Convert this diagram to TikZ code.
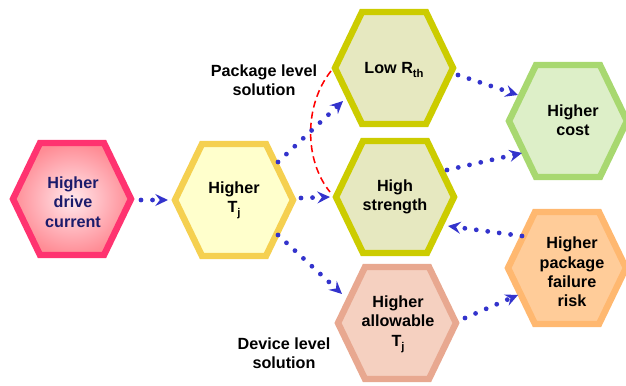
\documentclass[tikz,border=0pt]{standalone}
\usepackage{fontspec}
\setmainfont{Liberation Sans}
\usetikzlibrary{arrows.meta,calc}
\definecolor{arrowblue}{HTML}{3333CC}
\definecolor{navytxt}{HTML}{1B1B6B}
\definecolor{bdPink}{HTML}{FF3370}
\definecolor{inPink}{HTML}{FFE8EC}
\definecolor{outPink}{HTML}{FF8C95}
\definecolor{bdYel}{HTML}{F5D050}
\definecolor{fiYel}{HTML}{FFFFCC}
\definecolor{bdOli}{HTML}{CCCC00}
\definecolor{fiOli}{HTML}{E6E8C0}
\definecolor{bdGrn}{HTML}{A8D870}
\definecolor{fiGrn}{HTML}{DDEFC8}
\definecolor{bdOra}{HTML}{FFB870}
\definecolor{fiOra}{HTML}{FFCC99}
\definecolor{bdSal}{HTML}{E8A890}
\definecolor{fiSal}{HTML}{F5D0C0}
\newcommand\hexpath[2]{%
  \draw[#1] ($(#2)+(-59,0)$) -- ++(27,-56) -- ++(64,0) -- ++(27,56) -- ++(-27,56) -- ++(-64,0) -- cycle;}
\newcommand\subtx[1]{\raisebox{-0.45ex}{\fontsize{8}{8}\selectfont #1}}
\tikzset{
  hexline/.style={line width=4.6pt, line join=miter},
  hextext/.style={align=center, font=\fontsize{11.5}{13.8}\selectfont\bfseries, inner sep=0pt},
  lbl/.style={align=center, font=\fontsize{11.5}{13.8}\selectfont\bfseries, inner sep=0pt},
  dotarrow/.style={draw=arrowblue, line width=3.4pt, line cap=round, dash pattern=on 0pt off 8.2pt,
     -{Stealth[length=9pt, width=8.5pt, inset=3.2pt, fill=arrowblue]}},
  reddash/.style={draw=red, line width=1.1pt, dash pattern=on 5pt off 3pt}
}
\begin{document}
\begin{tikzpicture}[x=0.025cm, y=-0.025cm]
\useasboundingbox (0,0) rectangle (626,386);
% hexagon centres
\coordinate (h1) at (72,199);
\coordinate (h2) at (234,200);
\coordinate (h3) at (394,68);
\coordinate (h4) at (395,197);
\coordinate (h5) at (568,121);
\coordinate (h6) at (567,268);
\coordinate (h7) at (397,323);
% hexagons
\hexpath{hexline, draw=bdPink, inner color=inPink, outer color=outPink}{h1}
\hexpath{hexline, draw=bdYel, fill=fiYel}{h2}
\hexpath{hexline, draw=bdOli, fill=fiOli}{h3}
\hexpath{hexline, draw=bdOli, fill=fiOli}{h4}
\hexpath{hexline, draw=bdGrn, fill=fiGrn}{h5}
\hexpath{hexline, draw=bdOra, fill=fiOra}{h6}
\hexpath{hexline, draw=bdSal, fill=fiSal}{h7}
% texts
\node[hextext, text=navytxt] (t1) at (73,202) {Higher\\drive\\current};
\node[hextext] (t2) at (234,200) {Higher\\T\subtx{j}};
\node[hextext] (t3) at (394,70) {Low R\subtx{th}};
\node[hextext] (t4) at (395,197) {High\\strength};
\node[hextext] (t5) at (573,120) {Higher\\cost};
\node[hextext] (t6) at (572,272) {Higher\\package\\failure\\risk};
\node[hextext] (t7) at (398,324) {Higher\\allowable\\T\subtx{j}};
\node[lbl] (pkg) at (264,80) {Package level\\solution};
\node[lbl] (dev) at (284,353) {Device level\\solution};
% red dashed boundary
\draw[reddash] ($(t3)+(-63,1)$) .. controls (304,105) and (304,160) .. ($(t4)+(-65,-5)$);
% connectors
\draw[dotarrow] ($(t1)+(68,-2)$) -- ($(t2)+(-66,0)$);
\draw[dotarrow] ($(t2)+(44,-38)$) -- ($(t3)+(-51,31)$);
\draw[dotarrow] ($(t2)+(67,-2)$) -- ($(t4)+(-65,0)$);
\draw[dotarrow] ($(t2)+(44,35)$) -- ($(t7)+(-56,-30)$);
\draw[dotarrow] ($(t3)+(64,5)$) -- ($(t5)+(-55,-25)$);
\draw[dotarrow] ($(t4)+(52,-27)$) -- ($(t5)+(-51,33)$);
\draw[dotarrow] ($(t6)+(-50,-36)$) -- ($(t4)+(53,29)$);
\draw[dotarrow] ($(t7)+(67,-6)$) -- ($(t6)+(-54,23)$);
\end{tikzpicture}
\end{document}
